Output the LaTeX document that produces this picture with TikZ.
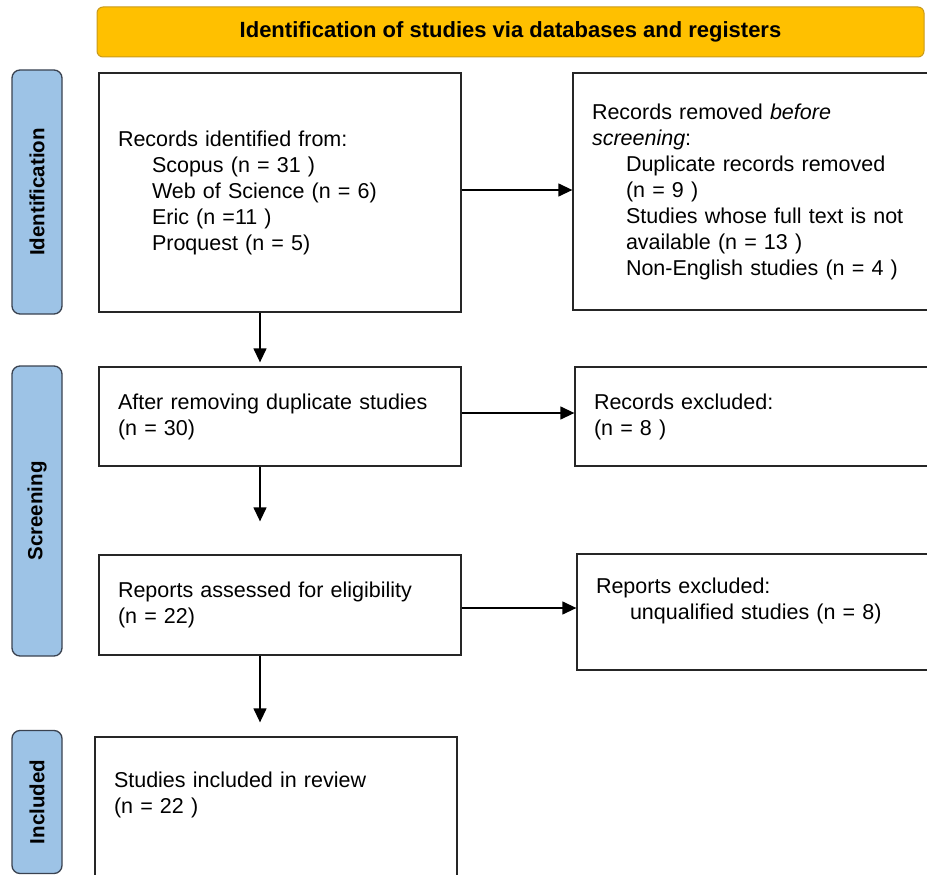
\documentclass[tikz,border=0pt]{standalone}
\usepackage{fontspec}
\setmainfont{Liberation Sans}
\usepackage{tikz}
\usetikzlibrary{arrows.meta}
\definecolor{headorange}{HTML}{FFC000}
\definecolor{headedge}{HTML}{C99A1A}
\definecolor{phaseblue}{HTML}{9DC3E6}
\definecolor{phaseedge}{HTML}{3A4250}
\definecolor{boxedge}{HTML}{262626}
\newcommand{\ind}{\hspace*{34pt}}

\begin{document}
\begin{tikzpicture}[x=1pt,y=-1pt,
    >={Triangle[length=14pt,width=13pt]},
    box/.style={draw=boxedge,line width=1.3pt,inner xsep=19pt,align=left,
      font=\fontsize{21.5}{26}\selectfont},
    phase/.style={draw=phaseedge,fill=phaseblue,line width=1.3pt,rounded corners=8pt,
      minimum width=50pt,inner sep=0pt},
    phasetext/.style={rotate=90,font=\bfseries\fontsize{20.5}{24}\selectfont},
    arr/.style={->,line width=1.3pt,black}]
  \clip (0,0) rectangle (927,875);
  % header
  \node[draw=headedge,fill=headorange,line width=1pt,rounded corners=6pt,
    minimum width=827pt,minimum height=50pt,
    font=\bfseries\fontsize{22}{26}\selectfont] (head) at (510.5,32)
    {Identification of studies via databases and registers};
  % phases on the left
  \node[phase,minimum height=244pt] (pident) at (37,192) {};
  \node[phasetext] at (pident) {Identification};
  \node[phase,minimum height=290pt] (pscreen) at (37,511) {};
  \node[phasetext] at (pscreen) {Screening};
  \node[phase,minimum height=143pt] (pincl) at (37,802) {};
  \node[phasetext] at (pincl) {Included};
  % main column
  \node[box,minimum width=362pt,minimum height=239pt,text width=324pt] (ident) at (280,192.5)
    {Records identified from:\\
     \ind Scopus (n = 31 )\\
     \ind Web of Science (n = 6)\\
     \ind Eric (n =11 )\\
     \ind Proquest (n = 5)};
  \node[box,minimum width=362pt,minimum height=99pt,text width=324pt] (dedup) at (280,416.5)
    {After removing duplicate studies\\
     (n = 30)};
  \node[box,minimum width=362pt,minimum height=100pt,text width=324pt] (assess) at (280,605)
    {Reports assessed for eligibility\\
     (n = 22)};
  \node[box,minimum width=362pt,minimum height=163pt,text width=324pt] (incl) at (276,818.5)
    {Studies included in review\\
     (n = 22 )\\
     \mbox{}\\
     \mbox{}};
  % right column
  \node[box,minimum width=400pt,minimum height=237pt,text width=362pt] (removed) at (773,191.5)
    {Records removed \textit{before}\\
     \textit{screening}:\\
     \ind Duplicate records removed\\
     \ind (n = 9 )\\
     \ind Studies whose full text is not\\
     \ind available (n = 13 )\\
     \ind Non-English studies (n = 4 )};
  \node[box,minimum width=400pt,minimum height=99pt,text width=362pt] (excl) at (775,416.5)
    {Records excluded:\\
     (n = 8 )};
  \node[box,minimum width=400pt,minimum height=116pt,text width=362pt] (repexcl) at (777,612)
    {Reports excluded:\\
     \ind unqualified studies (n = 8)\\
     \mbox{}};
  % arrows
  \draw[arr] (ident.east |- 0,190) -- (removed.west |- 0,190);
  \draw[arr] (dedup.east |- 0,413) -- (excl.west |- 0,413);
  \draw[arr] (assess.east |- 0,608) -- (repexcl.west |- 0,608);
  \draw[arr,shorten >=4pt] (ident.south -| 260,0) -- (dedup.north -| 260,0);
  \draw[arr,shorten >=33pt] (dedup.south -| 260,0) -- (assess.north -| 260,0);
  \draw[arr,shorten >=14pt] (assess.south -| 260,0) -- (incl.north -| 260,0);
\end{tikzpicture}
\end{document}
